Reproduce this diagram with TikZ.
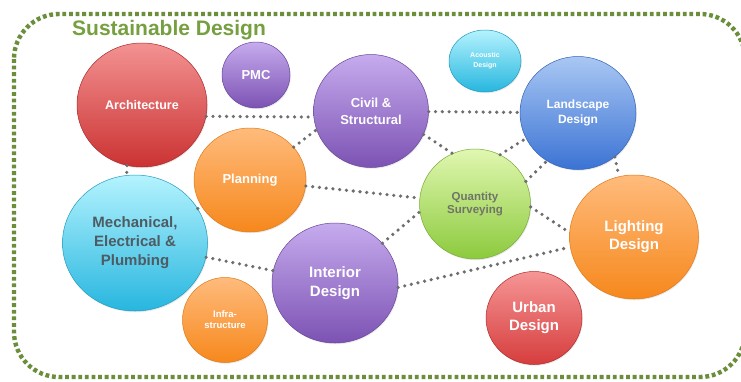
\documentclass[tikz,border=0pt]{standalone}
\usepackage{fontspec}
\setmainfont{Liberation Sans}
\usepackage{xcolor}
\usepackage{tikz}
\usetikzlibrary{calc}
\usetikzlibrary{shapes.geometric}
\usetikzlibrary{shadows}

\definecolor{frameGreen}{HTML}{6B8E3A}
\definecolor{titleGreen}{HTML}{76A040}
\definecolor{linkGrey}{HTML}{6E6E6E}
\definecolor{archTop}{HTML}{F39292}\definecolor{archBot}{HTML}{CB3232}
\definecolor{urTop}{HTML}{F69595}\definecolor{urBot}{HTML}{D63D3D}
\definecolor{purTop}{HTML}{C6ABEE}\definecolor{purBot}{HTML}{7C52B3}
\definecolor{cyTop}{HTML}{B4F3FE}\definecolor{cyBot}{HTML}{27B6DF}
\definecolor{blTop}{HTML}{A9C7F3}\definecolor{blBot}{HTML}{3B73D4}
\definecolor{orTop}{HTML}{FFBB7C}\definecolor{orBot}{HTML}{F6881C}
\definecolor{grTop}{HTML}{E0F7B0}\definecolor{grBot}{HTML}{8CCA3D}
\definecolor{mepText}{HTML}{4E5B63}
\definecolor{qsText}{HTML}{6F7468}

\tikzset{
	bubble/.style={ellipse,inner sep=0pt,align=center,text=white,
		line width=0.5pt,drop shadow={opacity=0.18,shadow xshift=0.8pt,shadow yshift=-1.2pt}},
	redBall/.style={bubble,draw=archBot!85!black,top color=archTop,bottom color=archBot},
	purpleBall/.style={bubble,draw=purBot!85!black,top color=purTop,bottom color=purBot},
	cyanBall/.style={bubble,draw=cyBot!85!black,top color=cyTop,bottom color=cyBot},
	blueBall/.style={bubble,draw=blBot!85!black,top color=blTop,bottom color=blBot},
	orangeBall/.style={bubble,draw=orBot!90!black,top color=orTop,bottom color=orBot},
	greenBall/.style={bubble,draw=grBot!85!black,top color=grTop,bottom color=grBot},
	link/.style={linkGrey,line width=3.6pt,line cap=round,dash pattern=on 0pt off 6.8pt},
}

\begin{document}
\begin{tikzpicture}[x=1pt,y=-1pt,font=\bfseries]
	\clip (0,0) rectangle (741,381);
	\fill[white] (0,0) rectangle (741,381);
	% dotted green frame
	\draw[frameGreen,line width=4.4pt,dash pattern=on 3.8pt off 2.8pt,rounded corners=45pt] (14,14) rectangle (745,377);
	\node[anchor=base west,inner sep=0pt,text=titleGreen,font=\bfseries\fontsize{21}{25}\selectfont] (title) at (72,35) {Sustainable Design};

	% the bubbles
	\node[redBall,minimum width=130pt,minimum height=124pt,font=\bfseries\fontsize{12.5}{15}\selectfont] (arch) at (142,105) {Architecture};
	\node[purpleBall,minimum width=68pt,minimum height=66pt,font=\bfseries\fontsize{13}{15}\selectfont] (pmc) at (256,75) {PMC};
	\node[purpleBall,minimum width=115pt,minimum height=113pt,font=\bfseries\fontsize{13}{17}\selectfont] (civil) at (371,111) {Civil \&\\Structural};
	\node[cyanBall,minimum width=72pt,minimum height=62pt,font=\bfseries\fontsize{7}{10}\selectfont] (acoustic) at (485,61) {Acoustic\\Design};
	\node[blueBall,minimum width=116pt,minimum height=113pt,font=\bfseries\fontsize{12}{15}\selectfont] (landscape) at (578,113) {Landscape\\Design};
	\node[orangeBall,minimum width=112pt,minimum height=104pt,font=\bfseries\fontsize{13}{15}\selectfont] (planning) at (250,180) {Planning};
	\node[greenBall,minimum width=111pt,minimum height=110pt,text=qsText,font=\bfseries\fontsize{11.5}{13.5}\selectfont] (qs) at (475,204) {Quantity\\Surveying};
	\node[cyanBall,minimum width=145pt,minimum height=136pt,text=mepText,font=\bfseries\fontsize{15}{19}\selectfont] (mep) at (135,243) {Mechanical,\\Electrical \&\\Plumbing};
	\node[purpleBall,minimum width=126pt,minimum height=120pt,font=\bfseries\fontsize{15}{19}\selectfont] (interior) at (335,283) {Interior\\Design};
	\node[orangeBall,minimum width=85pt,minimum height=85pt,font=\bfseries\fontsize{9.5}{11}\selectfont] (infra) at (225,320) {Infra-\\structure};
	\node[orangeBall,minimum width=129pt,minimum height=124pt,font=\bfseries\fontsize{15}{18}\selectfont] (lighting) at (634,237) {Lighting\\Design};
	\node[redBall,top color=urTop,bottom color=urBot,minimum width=96pt,minimum height=93pt,font=\bfseries\fontsize{15}{18}\selectfont] (urban) at (534,318) {Urban\\Design};

	% dotted links
	\draw[link] (arch.-10) -- (civil.186);
	\draw[link] (arch.256) -- (mep.97);
	\draw[link] (planning.37) -- (civil.199);
	\draw[link] (civil) -- (landscape);
	\draw[link] (civil.-24) -- (qs.114);
	\draw[link] (qs.63) -- (landscape.206);
	\draw[link] (qs.24) -- (landscape.237);
	\draw[link] (landscape.-50) -- (lighting.104);
	\draw[link] (planning) -- (qs);
	\draw[link] (mep) -- (planning);
	\draw[link] (mep) -- (interior);
	\draw[link] (interior.40) -- (qs.188);
	\draw[link] (qs.-3) -- (lighting.176);
	\draw[link] (interior.-4) -- (lighting.189);
\end{tikzpicture}
\end{document}
